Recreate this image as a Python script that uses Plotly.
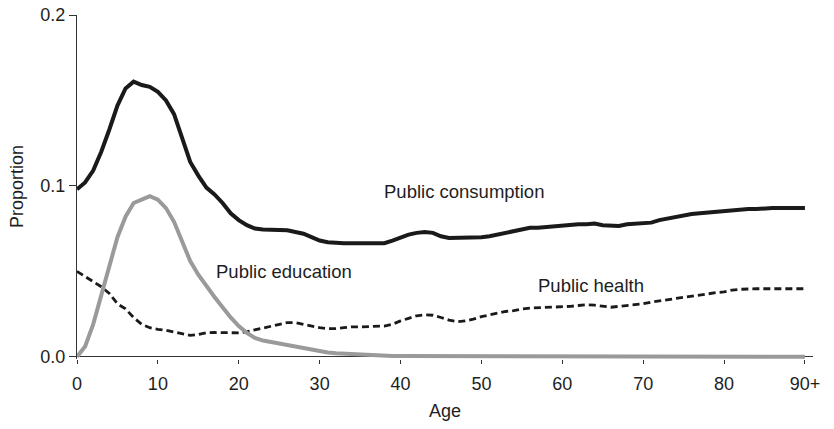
import plotly.graph_objects as go

ages = list(range(0, 91))

public_consumption = [
    0.098, 0.102, 0.109, 0.120, 0.133, 0.147, 0.157, 0.161, 0.159, 0.158,
    0.155, 0.150, 0.142, 0.128, 0.114, 0.106, 0.099, 0.095, 0.090, 0.084,
    0.080, 0.077, 0.075, 0.0745, 0.0745, 0.0745, 0.074, 0.073, 0.072, 0.070,
    0.068, 0.067, 0.0665, 0.0665, 0.0665, 0.0665, 0.0665, 0.0665, 0.0665, 0.068,
    0.070, 0.0715, 0.0725, 0.073, 0.0725, 0.0705, 0.0695, 0.0695, 0.0695, 0.0695,
    0.070, 0.0705, 0.0715, 0.073, 0.074, 0.0745, 0.0755, 0.0755, 0.076, 0.0765,
    0.0765, 0.077, 0.0775, 0.0775, 0.078, 0.077, 0.0765, 0.0765, 0.0775, 0.078,
    0.078, 0.0785, 0.080, 0.081, 0.082, 0.083, 0.0835, 0.084, 0.0845, 0.085,
    0.0855, 0.086, 0.086, 0.0865, 0.0865, 0.087, 0.087, 0.087, 0.087, 0.087,
    0.087,
]

public_education = [
    0.000, 0.006, 0.019, 0.036, 0.054, 0.070, 0.082, 0.090, 0.092, 0.094,
    0.092, 0.087, 0.079, 0.067, 0.056, 0.048, 0.041, 0.035, 0.029, 0.023,
    0.018, 0.014, 0.011, 0.0095, 0.0087, 0.0078, 0.0068, 0.0058, 0.0049, 0.0041,
    0.0033, 0.0025, 0.0020, 0.0018, 0.0015, 0.0011, 0.0008, 0.0005, 0.0005, 0.0005,
    0.0005, 0.0005, 0.0005, 0.0005, 0.0005, 0.0005, 0.0005, 0.0005, 0.0005, 0.0002,
    0.0, 0.0, 0.0, 0.0, 0.0, 0.0, 0.0, 0.0, 0.0, 0.0,
    0.0, 0.0, 0.0, 0.0, 0.0, 0.0, 0.0, 0.0, 0.0, 0.0,
    0.0, 0.0, 0.0, 0.0, 0.0, 0.0, 0.0, 0.0, 0.0, 0.0,
    0.0, 0.0, 0.0, 0.0, 0.0, 0.0, 0.0, 0.0, 0.0, 0.0,
    0.0,
]

public_health = [
    0.050, 0.047, 0.044, 0.041, 0.037, 0.031, 0.028, 0.023, 0.019, 0.017,
    0.016, 0.0155, 0.0145, 0.0135, 0.0125, 0.013, 0.014, 0.0142, 0.0142, 0.014,
    0.014, 0.0147, 0.0158, 0.017, 0.018, 0.019, 0.020, 0.020, 0.019, 0.018,
    0.017, 0.0165, 0.0165, 0.017, 0.0175, 0.0175, 0.0178, 0.018, 0.018, 0.019,
    0.021, 0.0225, 0.024, 0.0245, 0.0243, 0.023, 0.0215, 0.0205, 0.021, 0.022,
    0.0235, 0.0245, 0.0255, 0.0265, 0.027, 0.028, 0.0285, 0.0287, 0.0287, 0.0288,
    0.029, 0.0295, 0.030, 0.0304, 0.0302, 0.0296, 0.029, 0.0295, 0.030, 0.0304,
    0.031, 0.032, 0.0327, 0.0333, 0.034, 0.035, 0.0357, 0.0363, 0.037, 0.0375,
    0.038, 0.039, 0.0395, 0.0398, 0.0398, 0.0398, 0.0398, 0.0398, 0.0398, 0.0398,
    0.0398,
]

x_tick_vals = [0, 10, 20, 30, 40, 50, 60, 70, 80, 90]
x_tick_text = ["0", "10", "20", "30", "40", "50", "60", "70", "80", "90+"]
y_tick_vals = [0.0, 0.1, 0.2]
y_tick_text = ["0.0", "0.1", "0.2"]

labels = [
    ("Public consumption", 47.8, 0.0965),
    ("Public education", 25.6, 0.0497),
    ("Public health", 63.5, 0.0415),
]

FONT = "Liberation Sans, Arial, Helvetica, sans-serif"
TXT = "#1e1e1e"

fig = go.Figure()
fig.add_trace(go.Scatter(x=ages, y=public_health, mode="lines",
                         line=dict(color="#1a1a1a", width=2.8, dash="7px,4px"),
                         showlegend=False, hoverinfo="skip"))
fig.add_trace(go.Scatter(x=ages, y=public_education, mode="lines",
                         line=dict(color="#9a9a9a", width=4),
                         showlegend=False, hoverinfo="skip"))
fig.add_trace(go.Scatter(x=ages, y=public_consumption, mode="lines",
                         line=dict(color="#1a1a1a", width=4),
                         showlegend=False, hoverinfo="skip"))

for text, ax, ay in labels:
    fig.add_annotation(x=ax, y=ay, text=text, showarrow=False,
                       font=dict(family=FONT, size=18.5, color=TXT),
                       xanchor="center", yanchor="middle")

# axis titles
fig.add_annotation(xref="paper", yref="paper", x=0, y=0.5, xshift=-60,
                   text="Proportion", textangle=-90, showarrow=False,
                   font=dict(family=FONT, size=18, color=TXT),
                   xanchor="center", yanchor="middle")
fig.add_annotation(xref="paper", yref="paper", x=0.5, y=0, yshift=-52,
                   text="Age", showarrow=False,
                   font=dict(family=FONT, size=18, color=TXT),
                   xanchor="center", yanchor="middle")

# the page body adds an 8px offset; margins compensate for it
fig.update_layout(
    width=834, height=429,
    margin=dict(l=69, r=29, t=7, b=78, autoexpand=False),
    paper_bgcolor="white", plot_bgcolor="white",
    font=dict(family=FONT, size=18, color=TXT),
    xaxis=dict(range=[0, 91], tickmode="array", tickvals=x_tick_vals,
               ticktext=x_tick_text, ticks="outside", ticklen=4, tickwidth=1,
               tickcolor="#333333", showline=False, showgrid=False,
               zeroline=False, layer="below traces", automargin=False,
               ticklabeloverflow="allow", ticklabelstandoff=4,
               tickfont=dict(size=18)),
    yaxis=dict(range=[-0.0013, 0.2], tickmode="array", tickvals=y_tick_vals,
               ticktext=y_tick_text, ticks="outside", ticklen=7, tickwidth=1,
               tickcolor="#333333", showline=True, linecolor="#333333",
               linewidth=1.3, showgrid=False, zeroline=True,
               zerolinecolor="#333333", zerolinewidth=1.3, layer="below traces",
               automargin=False, ticklabeloverflow="allow",
               tickfont=dict(size=18)),
)

fig.write_html("out.html")
